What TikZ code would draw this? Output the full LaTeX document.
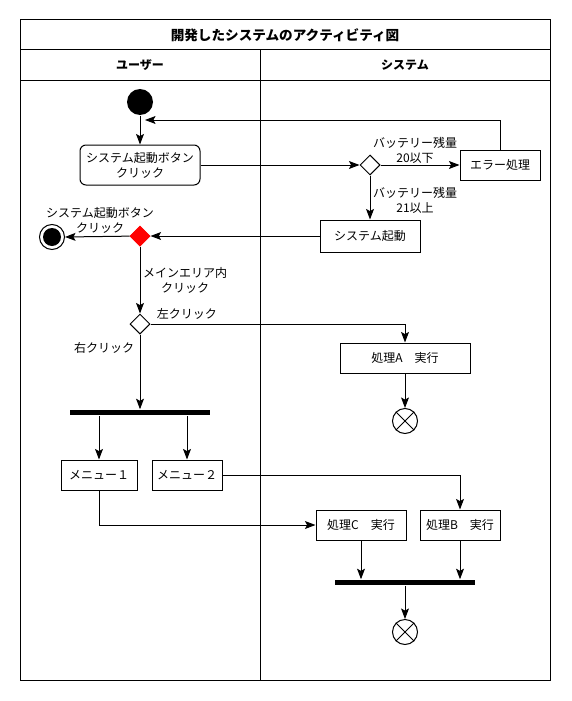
\documentclass[tikz,border=0pt]{standalone}
\usepackage{fontspec}
\setmainfont{Noto Sans CJK JP}
\usetikzlibrary{arrows.meta,shapes.geometric}
\newcommand\lanex{260}
\newcommand\arrowtipscale{1.4}

\tikzset{
  flow/.style={-{Stealth[scale=\arrowtipscale,inset=1.5pt]}},
  action/.style={draw,minimum height=30pt,inner sep=0pt,align=center,fill=white},
  choice/.style={draw,diamond,minimum width=20pt,minimum height=20pt,inner sep=0pt,fill=white},
  bar/.style={fill=black,minimum height=5.5pt,inner sep=0pt},
  flowend/.style={draw,circle,minimum size=25pt,inner sep=0pt,fill=white},
  guard/.style={align=center}
}

\begin{document}
\begin{tikzpicture}[x=1pt,y=-1pt,line width=1pt,
    every node/.append style={font=\fontsize{12}{15}\selectfont}]
    \useasboundingbox (0,0) rectangle (571,701);

    % swimlanes
    \draw (20,20) rectangle (550,680);
    \draw (20,50) -- (550,50);
    \draw (20,80) -- (550,80);
    \draw (\lanex,50) -- (\lanex,680);
    \node[font=\fontsize{13.6}{15}\selectfont\bfseries] (title) at (285,35) {開発したシステムのアクティビティ図};
    \node[font=\fontsize{12}{15}\selectfont\bfseries] (user) at (140,65) {ユーザー};
    \node[font=\fontsize{12}{15}\selectfont\bfseries] (system) at (405,65) {システム};

    % start and power on
    \node[circle,fill=black,minimum size=26pt,inner sep=0pt] (start) at (140,102) {};
    \node[action,rounded corners=6pt,minimum width=120pt,minimum height=40pt] (press) at (140,165) {システム起動ボタン\\クリック};
    \node[choice] (battery) at (370,165) {};
    \node[action,minimum width=80pt] (error) at (500,165) {エラー処理};
    \node[action,minimum width=100pt,minimum height=32pt] (boot) at (370,236) {システム起動};
    \coordinate (back) at (145,120);

    \node[guard] (low) at (415,150) {バッテリー残量\\20以下};
    \node[guard] (high) at (415,200) {バッテリー残量\\21以上};

    \draw[flow] (start) -- (press);
    \draw[flow] (press) -- (battery);
    \draw[flow] (battery) -- (error);
    \draw[flow] (error.north) |- (back);
    \draw[flow] (battery) -- (boot);

    % power off or main area
    \node[choice,fill=red,draw=red] (stop) at (140,236) {};
    \node[circle,fill=black,minimum size=18pt,inner sep=0pt] (final) at (52,237) {};
    \draw (final) circle (12.5pt);
    \coordinate (finaledge) at (65,237);
    \node[guard] (pressagain) at (100,220) {システム起動ボタン\\クリック};

    \draw[flow] (boot) -- (stop);
    \draw[flow] (stop) -- (finaledge);

    \node[choice] (click) at (140,324) {};
    \node[guard] (mainarea) at (185,280) {メインエリア内\\クリック};
    \node[anchor=west] (left) at (153,314) {左クリック};
    \node (right) at (104,348) {右クリック};

    \draw[flow] (stop) -- (click);

    % left click
    \node[action,minimum width=130pt] (procA) at (405,358) {処理A　実行};
    \node[flowend] (endA) at (405,421) {};
    \draw (endA.north east) -- (endA.south west) (endA.north west) -- (endA.south east);

    \draw[flow] (click.east) -| (procA.north);
    \draw[flow] (procA) -- (endA);

    % right click
    \node[bar,minimum width=140pt] (fork) at (140,412.5) {};
    \node[action,minimum width=76pt] (menu1) at (99,475) {メニュー１};
    \node[action,minimum width=70pt] (menu2) at (187,475) {メニュー２};

    \draw[flow] (click) -- (fork);
    \draw[flow] (fork.south -| menu1) -- (menu1);
    \draw[flow] (fork.south -| menu2) -- (menu2);

    \node[action,minimum width=90pt] (procC) at (361,525) {処理C　実行};
    \node[action,minimum width=80pt] (procB) at (460,525) {処理B　実行};
    \node[bar,minimum width=140pt] (join) at (405,582.5) {};
    \node[flowend] (endBC) at (405,632) {};
    \draw (endBC.north east) -- (endBC.south west) (endBC.north west) -- (endBC.south east);

    \draw[flow] (menu1.south) |- (procC.west);
    \draw[flow] (menu2.east) -| (procB.north);
    \draw[flow] (procC) -- (procC |- join.north);
    \draw[flow] (procB) -- (procB |- join.north);
    \draw[flow] (join) -- (endBC);
\end{tikzpicture}
\end{document}
